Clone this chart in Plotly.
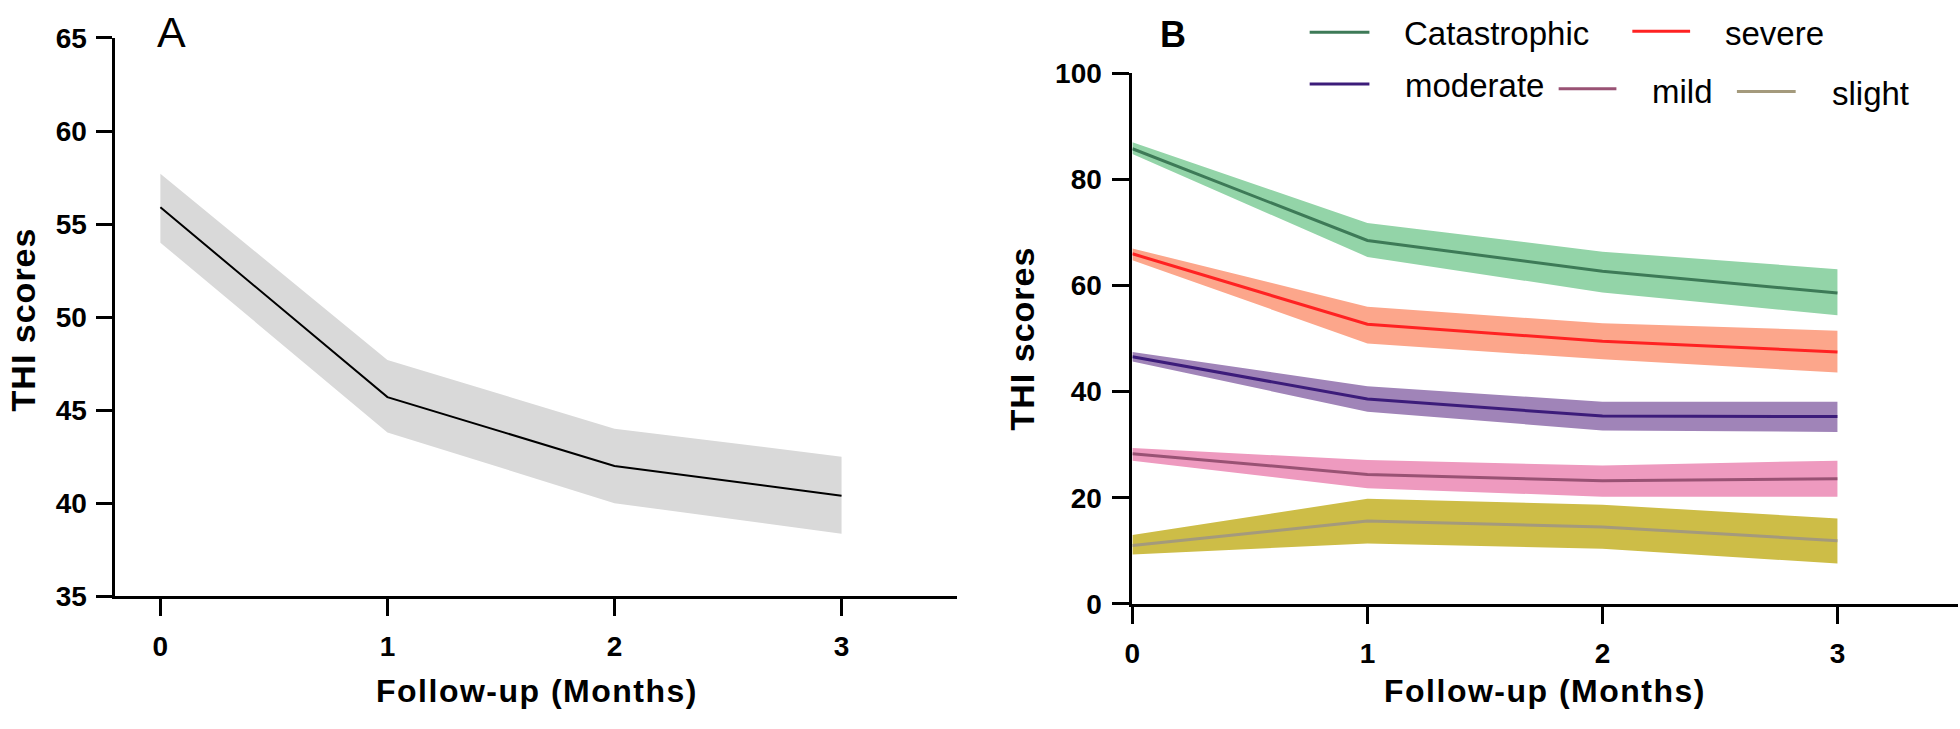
import plotly.graph_objects as go

# ---------------- data ----------------
months = [0, 1, 2, 3]
x_tick_labels = ["0", "1", "2", "3"]

# Panel A: overall THI
a_mean = [55.9, 45.7, 42.0, 40.4]
a_upper = [57.7, 47.7, 44.0, 42.5]
a_lower = [54.0, 43.8, 40.0, 38.35]

# Panel B: by severity grade
categories = ["Catastrophic", "severe", "moderate", "mild", "slight"]
cat_mean = [85.8, 68.5, 62.7, 58.6]
cat_upper = [87.0, 71.8, 66.4, 63.1]
cat_lower = [84.8, 65.4, 58.7, 54.4]
sev_mean = [66.0, 52.7, 49.5, 47.5]
sev_upper = [67.0, 56.0, 52.9, 51.5]
sev_lower = [64.8, 49.1, 46.1, 43.6]
mod_mean = [46.6, 38.6, 35.4, 35.3]
mod_upper = [47.5, 41.0, 38.1, 38.1]
mod_lower = [45.7, 36.2, 32.7, 32.4]
mild_mean = [28.3, 24.4, 23.2, 23.6]
mild_upper = [29.4, 27.1, 26.1, 27.0]
mild_lower = [27.0, 21.8, 20.2, 20.2]
sli_mean = [11.0, 15.6, 14.5, 11.9]
sli_upper = [13.0, 19.8, 18.7, 16.1]
sli_lower = [9.3, 11.4, 10.4, 7.6]

a_ticks = [35, 40, 45, 50, 55, 60, 65]
b_ticks = [0, 20, 40, 60, 80, 100]

# ---------------- styles ----------------
line_colors = ["#3d7a57", "#ff2222", "#3c1c7a", "#995274", "#a49a7c"]
band_colors = ["#93d4a8", "#fca68b", "#a084b8", "#ee9abf", "#cdbd47"]
series = [
    (cat_mean, cat_upper, cat_lower),
    (sev_mean, sev_upper, sev_lower),
    (mod_mean, mod_upper, mod_lower),
    (mild_mean, mild_upper, mild_lower),
    (sli_mean, sli_upper, sli_lower),
]

W, H = 1960, 729
def fx(p):
    return p / W
def fy(p):
    return 1 - p / H

FONT = "Liberation Sans, Arial, sans-serif"

fig = go.Figure()

# Panel A band + line
fig.add_trace(go.Scatter(
    x=months + months[::-1], y=a_upper + a_lower[::-1],
    fill="toself", fillcolor="#d9d9d9", line=dict(width=0),
    mode="lines", hoverinfo="skip", showlegend=False, xaxis="x", yaxis="y"))
fig.add_trace(go.Scatter(
    x=months, y=a_mean, mode="lines", line=dict(color="black", width=2),
    showlegend=False, xaxis="x", yaxis="y"))

# Panel B bands + lines
for name, (m, u, l), lc, bc in zip(categories, series, line_colors, band_colors):
    fig.add_trace(go.Scatter(
        x=months + months[::-1], y=u + l[::-1],
        fill="toself", fillcolor=bc, line=dict(width=0),
        mode="lines", hoverinfo="skip", showlegend=False, xaxis="x2", yaxis="y2"))
for name, (m, u, l), lc, bc in zip(categories, series, line_colors, band_colors):
    fig.add_trace(go.Scatter(
        x=months, y=m, mode="lines", name=name, line=dict(color=lc, width=3),
        showlegend=False, xaxis="x2", yaxis="y2"))

tickfont = dict(family=FONT, size=28, color="black", weight="bold")
common = dict(showline=True, linewidth=3, linecolor="black", ticks="outside",
              ticklen=17, tickwidth=3, tickcolor="black", showgrid=False,
              zeroline=False, tickfont=tickfont, fixedrange=True)

fig.update_layout(
    width=W, height=H,
    margin=dict(l=0, r=0, t=0, b=0),
    paper_bgcolor="white", plot_bgcolor="white",
    showlegend=False,
    xaxis=dict(domain=[fx(107), fx(953)], range=[-0.2018, 3.509], anchor="y",
               tickvals=months, ticktext=x_tick_labels, ticklabelstandoff=6, **common),
    yaxis=dict(domain=[fy(607), fy(24)], range=[35, 65], anchor="x",
               tickvals=a_ticks, ticklen=16, ticklabelstandoff=3,
               **{k: v for k, v in common.items() if k != "ticklen"}),
    xaxis2=dict(domain=[fx(1129), fx(1958)], range=[0, 3.513], anchor="y2",
                tickvals=months, ticktext=x_tick_labels, ticklabelstandoff=6, **common),
    yaxis2=dict(domain=[fy(615), fy(61)], range=[0, 100], anchor="x2",
                tickvals=b_ticks, ticklabelstandoff=5, **common),
)

title_font = dict(family=FONT, size=32, color="black", weight="bold")
ytitle_font = dict(family=FONT, size=34, color="black", weight="bold")
ann = []
ann.append(dict(x=fx(531), y=fy(706), text='<span style="letter-spacing:1.5px">Follow-up (Months)</span>',
                font=title_font))
ann.append(dict(x=fx(1543), y=fy(706), text='<span style="letter-spacing:1.5px">Follow-up (Months)</span>',
                font=title_font))
ann.append(dict(x=fx(16), y=fy(318), text='<span style="letter-spacing:1px">THI scores</span>',
                textangle=-90, font=ytitle_font))
ann.append(dict(x=fx(1018), y=fy(338), text='<span style="letter-spacing:1px">THI scores</span>',
                textangle=-90, font=ytitle_font))
ann.append(dict(x=fx(164), y=fy(18), text="A",
                font=dict(family=FONT, size=43, color="black")))
ann.append(dict(x=fx(1170), y=fy(20), text="B",
                font=dict(family=FONT, size=36, color="black", weight="bold")))

# manual legend (positions in px)
legend_pos = [  # (line x0, line x1, line y, text x, text y)
    (1307, 1367, 18, 1400, 19),
    (1631, 1689, 17, 1722, 19),
    (1307, 1367, 72, 1401, 74),
    (1557, 1615, 77, 1649, 80),
    (1736, 1795, 80, 1829, 82),
]
shapes = []
for name, lc, (x0, x1, ly, tx, ty) in zip(categories, line_colors, legend_pos):
    shapes.append(dict(type="line", xref="paper", yref="paper",
                       x0=fx(x0), x1=fx(x1), y0=fy(ly), y1=fy(ly),
                       line=dict(color=lc, width=3)))
    ann.append(dict(x=fx(tx), y=fy(ty), text=name, xanchor="left",
                    font=dict(family=FONT, size=33, color="black")))

for a in ann:
    a.setdefault("xanchor", "center")
    a.update(xref="paper", yref="paper", yanchor="middle", showarrow=False)

fig.update_layout(annotations=ann, shapes=shapes)

fig.write_html("out.html", config={"displayModeBar": False},
               post_script="document.body.style.margin='0';document.body.style.overflow='hidden';")
